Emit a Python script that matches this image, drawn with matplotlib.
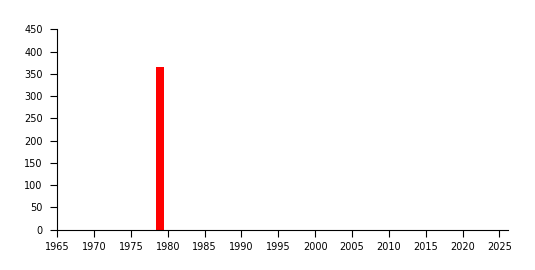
import matplotlib
matplotlib.use("Agg")
import matplotlib.pyplot as plt

# data
years = [1979]
counts = [365]
x_ticks = list(range(1965, 2030, 5))
y_ticks = list(range(0, 500, 50))

fig = plt.figure(figsize=(5.35, 2.7), dpi=100)
ax = fig.add_axes([0.107, 0.15, 0.843, 0.741])

ax.bar(years, counts, width=1.1, color="#ff0000", align="center")

ax.set_xlim(1965, 2026.2)
ax.set_ylim(0, 450)
ax.set_xticks(x_ticks)
ax.set_yticks(y_ticks)

for side in ("top", "right"):
    ax.spines[side].set_visible(False)
for side in ("left", "bottom"):
    ax.spines[side].set_linewidth(0.8)
    ax.spines[side].set_color("black")

ax.tick_params(axis="both", direction="out", length=5, width=0.8,
               labelsize=7, colors="black")
ax.tick_params(axis="y", pad=5.5)
ax.tick_params(axis="x", pad=4)

fig.savefig("out.png", dpi=100, facecolor="white")
